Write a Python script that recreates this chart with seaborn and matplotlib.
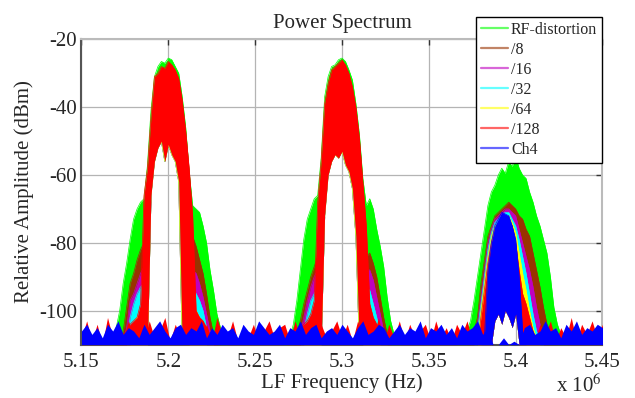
import numpy as np
import matplotlib
matplotlib.use('Agg')
import matplotlib.pyplot as plt
import seaborn as sns

# frequency grids in MHz (axis is shown as x 10^6 Hz)
band1_f = np.round(np.arange(5.166, 5.2365, 0.002), 3)
band2_f = np.round(np.arange(5.266, 5.3365, 0.002), 3)
band3_f = np.round(np.arange(5.366, 5.4325, 0.002), 3)
floor_f = np.round(np.arange(5.150, 5.4515, 0.003), 3)

labels = ['RF-distortion', '/8', '/16', '/32', '/64', '/128', 'Ch4']
colors = ['#00ff00', '#993300', '#bf00bf', '#00ffff', '#ffff00', '#ff0000', '#0000ff']

# lower edge of the spectra in each band (white notch under the main lobes)
hole_b1 = [-110, -110, -110, -110, -110, -110, -110, -110, -110, -110, -110, -110,
           -66, -56, -52, -50, -56, -51, -54, -56, -62,
           -110, -110, -110, -110, -110, -110, -110, -110, -110, -110, -110, -110, -110, -110, -110]
hole_b2 = [-110, -110, -110, -110, -110, -110, -110, -110, -110, -110, -110, -110,
           -72, -60, -56, -54, -55, -53, -57, -59, -64, -78,
           -110, -110, -110, -110, -110, -110, -110, -110, -110, -110, -110, -110, -110, -110]
hole_b3 = [-110, -110, -110, -110, -110, -110, -110, -110, -110, -110, -110,
           -103, -101, -104, -100, -102, -105, -101,
           -110, -110, -110, -110, -110, -110, -110, -110, -110, -110, -110, -110, -110, -110, -110, -110]

# upper envelopes (dBm)
green_b1 = [-110, -108, -105, -100, -92, -86, -79, -73, -70, -68, -67, -57, -41, -31, -28, -26.5, -27, -25.5,
            -26, -28, -30, -37, -46, -59, -69, -70, -71, -75, -80, -88, -94, -101, -105, -108, -110, -110]
green_b2 = [-110, -109, -108, -104, -97, -88, -79, -73, -70, -67, -66, -55, -37, -31, -28, -27.5, -26, -25.5,
            -26.5, -29, -32, -39, -48, -61, -69, -67, -70, -76, -81, -87, -96, -103, -107, -109, -110, -110]
green_b3 = [-109, -108, -108, -106, -103, -97, -90, -83, -76, -69, -65, -63, -60, -58, -59.5, -56, -57.5,
            -54.5, -58, -60, -61, -65, -68, -72, -75, -79, -83, -90, -99, -104, -107, -109, -110, -110]

brown_b1 = [-110, -110, -110, -110, -106, -99, -92, -89, -85, -82, -80, -80,
            -110, -110, -110, -110, -110, -110, -110, -110, -110, -110, -110, -110,
            -78, -81, -85, -89, -95, -102, -107, -109, -110, -110, -110, -110]
brown_b2 = [-110, -110, -110, -110, -107, -103, -98, -94, -90, -87, -84, -80,
            -110, -110, -110, -110, -110, -110, -110, -110, -110, -110, -110, -110,
            -84, -83, -86, -90, -96, -102, -107, -110, -110, -110, -110, -110]
brown_b3 = [-110, -110, -110, -110, -108, -106, -102, -92, -85, -78, -75, -72, -71, -70, -69, -68, -69,
            -70, -72, -73, -76, -78, -83, -88, -93, -99, -104, -107, -109, -110, -110, -110, -110, -110]

magenta_b1 = [-110, -110, -110, -110, -110, -105, -97, -95, -92, -89, -87, -87,
              -110, -110, -110, -110, -110, -110, -110, -110, -110, -110, -110, -110,
              -88, -89, -92, -96, -101, -106, -109, -110, -110, -110, -110, -110]
magenta_b2 = [-110, -110, -110, -110, -110, -107, -102, -97, -93, -90, -88, -85,
              -110, -110, -110, -110, -110, -110, -110, -110, -110, -110, -110, -110,
              -88, -88, -91, -96, -101, -106, -109, -110, -110, -110, -110, -110]
magenta_b3 = [-110, -110, -110, -110, -110, -108, -104, -96, -88, -80, -76, -73, -72, -71, -70, -70, -71,
              -72, -76, -80, -84, -88, -93, -99, -104, -108, -110, -110, -110, -110, -110, -110, -110, -110]

cyan_b1 = [-110, -110, -110, -110, -110, -110, -102, -98, -95, -93, -92, -92,
           -110, -110, -110, -110, -110, -110, -110, -110, -110, -110, -110, -110,
           -93, -95, -97, -100, -105, -108, -110, -110, -110, -110, -110, -110]
cyan_b2 = [-110, -110, -110, -110, -110, -110, -106, -101, -97, -95, -93, -91,
           -110, -110, -110, -110, -110, -110, -110, -110, -110, -110, -110, -110,
           -93, -94, -98, -102, -107, -109, -110, -110, -110, -110, -110, -110]
cyan_b3 = [-110, -110, -110, -110, -110, -110, -106, -98, -90, -82, -77, -74, -73, -72, -71, -71, -73,
           -75, -79, -84, -89, -95, -101, -106, -109, -110, -110, -110, -110, -110, -110, -110, -110, -110]

yellow_b1 = [-110, -110, -110, -110, -110, -110, -110, -104, -102, -101, -100, -100,
             -110, -110, -110, -110, -110, -110, -110, -110, -110, -110, -110, -110,
             -100, -100, -102, -105, -110, -110, -110, -110, -110, -110, -110, -110]
yellow_b2 = [-110, -110, -110, -110, -110, -110, -110, -107, -103, -101, -100, -98,
             -110, -110, -110, -110, -110, -110, -110, -110, -110, -110, -110, -110,
             -99, -101, -104, -107, -110, -110, -110, -110, -110, -110, -110, -110]
yellow_b3 = [-110, -110, -110, -110, -110, -110, -110, -100, -92, -84, -78, -75, -74, -73, -72, -72, -74,
             -77, -83, -89, -94, -100, -105, -108, -110, -110, -110, -110, -110, -110, -110, -110, -110, -110]

red_b1 = [-110, -110, -110, -109, -107, -106, -104, -103, -102, -98, -66, -58, -43, -31, -30, -28, -28.5,
          -26.5, -27.5, -29, -31.5, -38, -47, -58, -72, -100, -102, -103, -105, -107, -109, -110, -110, -110,
          -110, -110]
red_b2 = [-110, -110, -109, -108, -107, -105, -104, -103, -101, -97, -68, -56, -39, -33, -29, -28, -27,
          -26, -27.5, -30, -34, -40, -49, -62, -75, -98, -102, -104, -106, -108, -110, -110, -110, -110,
          -110, -110]
red_b3 = [-110, -110, -110, -110, -110, -110, -110, -102, -94, -86, -80, -76, -75, -74, -73, -73, -75,
          -80, -88, -95, -98, -102, -106, -109, -110, -110, -110, -110, -110, -110, -110, -110, -110, -110]

blue_b3 = [-110, -110, -110, -110, -110, -110, -110, -110, -108, -88, -80, -75, -73, -71, -71.5, -72, -75,
           -79, -90, -106, -110, -110, -110, -110, -110, -110, -110, -110, -110, -110, -110, -110, -110, -110]

# noise floor tops
blue_floor = [-106, -104, -107, -105, -108, -104, -106, -103, -107, -105,
              -106, -108, -104, -107, -105, -103, -106, -108, -105, -104,
              -107, -105, -106, -103, -108, -105, -107, -104, -106, -105,
              -108, -104, -106, -107, -103, -105, -107, -106, -104, -108,
              -105, -106, -103, -107, -105, -104, -108, -106, -105, -107,
              -104, -106, -108, -105, -103, -107, -106, -104, -105, -108,
              -106, -104, -107, -105, -106, -103, -108, -105, -106, -104,
              -107, -105, -108, -104, -106, -105, -103, -107, -105, -110,
              -110, -108, -110, -109, -110, -105, -104, -107, -106, -103,
              -106, -105, -108, -104, -106, -103, -107, -105, -106, -104, -105]
red_floor = [-108, -103, -109, -104, -110, -102, -108, -105, -109, -103,
             -107, -104, -109, -103, -108, -106, -102, -109, -104, -108,
             -103, -109, -105, -108, -104, -109, -102, -107, -108, -103,
             -109, -105, -108, -104, -109, -106, -103, -108, -105, -104,
             -109, -103, -108, -105, -102, -109, -104, -108, -106, -103,
             -108, -104, -109, -103, -107, -105, -108, -102, -109, -104,
             -108, -103, -109, -104, -108, -106, -104, -109, -103, -108,
             -105, -109, -104, -107, -103, -109, -106, -104, -109, -110,
             -110, -110, -110, -110, -110, -108, -103, -109, -104, -107,
             -103, -109, -105, -108, -102, -109, -104, -107, -103, -108, -104]

series = {
    'RF-distortion': (green_b1, green_b2, green_b3),
    '/8': (brown_b1, brown_b2, brown_b3),
    '/16': (magenta_b1, magenta_b2, magenta_b3),
    '/32': (cyan_b1, cyan_b2, cyan_b3),
    '/64': (yellow_b1, yellow_b2, yellow_b3),
    '/128': (red_b1, red_b2, red_b3),
    'Ch4': (None, None, blue_b3),
}

xticks = [5.15, 5.2, 5.25, 5.3, 5.35, 5.4, 5.45]
xticklabels = ['5.15', '5.2', '5.25', '5.3', '5.35', '5.4', '5.45']
yticks = [-100, -80, -60, -40, -20]
yticklabels = ['-100', '-80', '-60', '-40', '-20']

sns.set_theme(style='white')
plt.rcParams['font.family'] = ['Liberation Serif', 'DejaVu Serif']
plt.rcParams['mathtext.fontset'] = 'stix'
plt.rcParams['axes.unicode_minus'] = False

fig = plt.figure(figsize=(6.35, 3.98), dpi=100)
ax = fig.add_axes([0.1283, 0.1342, 0.8205, 0.7668])

bands_f = [band1_f, band2_f, band3_f]
holes = [hole_b1, hole_b2, hole_b3]

handles = []
for z, (name, col) in enumerate(zip(labels, colors)):
    for f, hole, top in zip(bands_f, holes, series[name]):
        if top is None:
            continue
        top = np.maximum(np.array(top, float), hole)
        ax.fill_between(f, hole, top, color=col, lw=0, zorder=3 + z)
        sns.lineplot(x=f, y=top, color=col, lw=0.5, ax=ax, zorder=3 + z)
    if name == '/128':
        ax.fill_between(floor_f, -110, red_floor, color=col, lw=0, zorder=3 + z)
    if name == 'Ch4':
        ax.fill_between(floor_f, -110, blue_floor, color=col, lw=0, zorder=3 + z)
    handles.append(plt.Line2D([], [], color=col, lw=1.6, alpha=0.6))

ax.set_xlim(5.15, 5.45)
ax.set_ylim(-110, -20)
ax.set_xticks(xticks)
ax.set_xticklabels(xticklabels)
ax.set_yticks(yticks)
ax.set_yticklabels(yticklabels)
ax.tick_params(direction='in', top=True, right=True, length=4, width=1, color='#333333',
               labelsize=15, pad=6)
ax.tick_params(axis='y', pad=3)
ax.grid(True, color='#b4b4b4', lw=0.9)
ax.set_axisbelow(True)
for s in ['left', 'bottom']:
    ax.spines[s].set_color('#555555')
    ax.spines[s].set_linewidth(1.5)
for s in ['top', 'right']:
    ax.spines[s].set_color('#bbbbbb')
    ax.spines[s].set_linewidth(1.5)

ax.set_title('Power Spectrum', fontsize=15, pad=8)
ax.set_xlabel('LF Frequency (Hz)', fontsize=15, labelpad=1)
ax.set_ylabel('Relative Amplitude (dBm)', fontsize=15, labelpad=4)
fig.text(602 / 635, 6 / 398, r'x 10$^6$', fontsize=15, ha='right', va='baseline')

leg = ax.legend(handles, labels, loc='upper right', bbox_to_anchor=(602 / 635, 1 - 17 / 398),
                bbox_transform=fig.transFigure, fontsize=11.5, frameon=True, fancybox=False,
                edgecolor='black', framealpha=1, borderpad=0.3, labelspacing=0.25,
                handlelength=1.7, handletextpad=0.2, borderaxespad=0)
leg.get_frame().set_linewidth(1.0)
leg.set_zorder(20)

fig.savefig('out.png', dpi=100)
